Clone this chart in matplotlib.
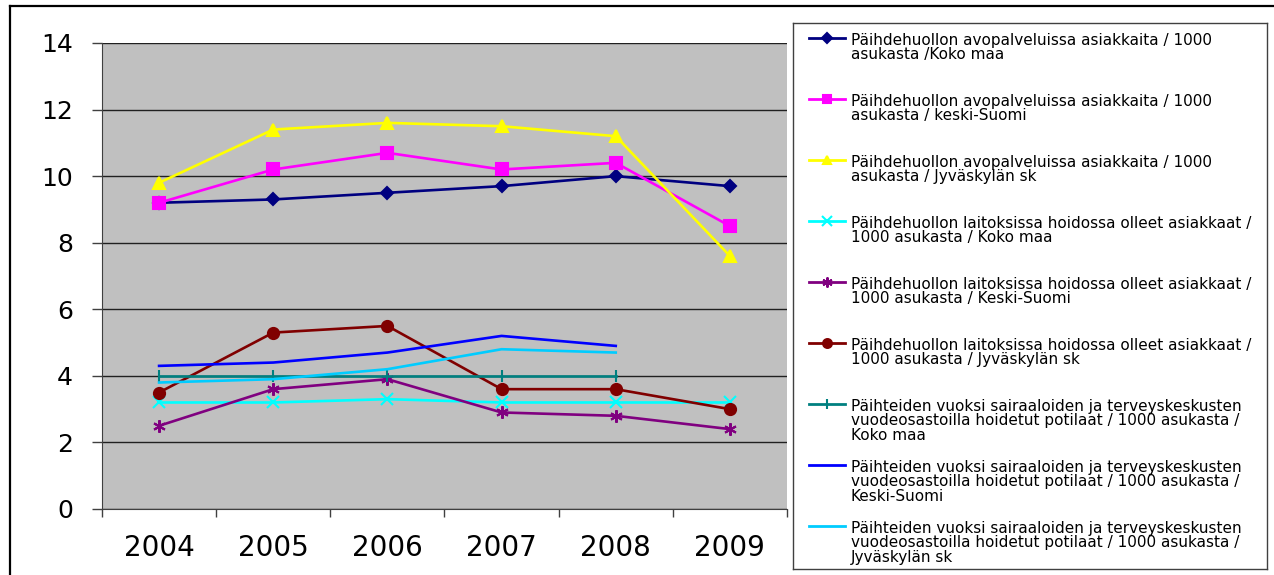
import matplotlib.pyplot as plt
from matplotlib.lines import Line2D

plt.rcParams["font.family"] = ["DejaVu Sans"]

years = ["2004", "2005", "2006", "2007", "2008", "2009"]

avo_koko = [9.2, 9.3, 9.5, 9.7, 10.0, 9.7]
avo_keski = [9.2, 10.2, 10.7, 10.2, 10.4, 8.5]
avo_jkl = [9.8, 11.4, 11.6, 11.5, 11.2, 7.6]
laitos_koko = [3.2, 3.2, 3.3, 3.2, 3.2, 3.2]
laitos_keski = [2.5, 3.6, 3.9, 2.9, 2.8, 2.4]
laitos_jkl = [3.5, 5.3, 5.5, 3.6, 3.6, 3.0]
sairaala_koko = [4.0, 4.0, 4.0, 4.0, 4.0]
sairaala_keski = [4.3, 4.4, 4.7, 5.2, 4.9]
sairaala_jkl = [3.8, 3.9, 4.2, 4.8, 4.7]

labels = [
    "Päihdehuollon avopalveluissa asiakkaita / 1000\nasukasta /Koko maa",
    "Päihdehuollon avopalveluissa asiakkaita / 1000\nasukasta / keski-Suomi",
    "Päihdehuollon avopalveluissa asiakkaita / 1000\nasukasta / Jyväskylän sk",
    "Päihdehuollon laitoksissa hoidossa olleet asiakkaat /\n1000 asukasta / Koko maa",
    "Päihdehuollon laitoksissa hoidossa olleet asiakkaat /\n1000 asukasta / Keski-Suomi",
    "Päihdehuollon laitoksissa hoidossa olleet asiakkaat /\n1000 asukasta / Jyväskylän sk",
    "Päihteiden vuoksi sairaaloiden ja terveyskeskusten\nvuodeosastoilla hoidetut potilaat / 1000 asukasta /\nKoko maa",
    "Päihteiden vuoksi sairaaloiden ja terveyskeskusten\nvuodeosastoilla hoidetut potilaat / 1000 asukasta /\nKeski-Suomi",
    "Päihteiden vuoksi sairaaloiden ja terveyskeskusten\nvuodeosastoilla hoidetut potilaat / 1000 asukasta /\nJyväskylän sk",
]

series = [avo_koko, avo_keski, avo_jkl, laitos_koko, laitos_keski,
          laitos_jkl, sairaala_koko, sairaala_keski, sairaala_jkl]
colors = ["#000080", "#FF00FF", "#FFFF00", "#00FFFF", "#800080",
          "#800000", "#008080", "#0000FF", "#00CCFF"]
markers = ["D", "s", "^", "x", (6, 2, 0), "o", "|", "None", "None"]
msizes = [6, 8, 8, 9, 9, 8, 9, 0, 0]

W, H = 1274, 575
fig = plt.figure(figsize=(W / 100, H / 100), dpi=100)

# plot area
ax = fig.add_axes([102 / W, 1 - 509 / H, 685 / W, 466 / H])
ax.set_facecolor("#C0C0C0")
for vals, c, m, ms in zip(series, colors, markers, msizes):
    ax.plot(range(len(vals)), vals, color=c, lw=1.9, marker=m, ms=ms,
            mew=1.5, zorder=3)

ax.set_xlim(-0.5, 5.5)
ax.set_ylim(0, 14)
ax.set_yticks(range(0, 15, 2))
ax.yaxis.grid(True, color="#202020", lw=1)
ax.set_axisbelow(True)
ax.tick_params(axis="y", labelsize=18, length=7, width=1, color="#404040", pad=14)
ax.set_xticks(range(len(years)))
ax.set_xticklabels(years, fontsize=20)
ax.set_xticks([i - 0.5 for i in range(len(years) + 1)], minor=True)
ax.tick_params(axis="x", which="major", length=0, pad=18)
ax.tick_params(axis="x", which="minor", length=6, width=1, color="#404040")
for side in ["top", "right"]:
    ax.spines[side].set_visible(False)
for side in ["left", "bottom"]:
    ax.spines[side].set_color("#404040")

# legend box
lax = fig.add_axes([793 / W, 1 - 569 / H, 474 / W, 546 / H])
lax.set_xlim(0, 474)
lax.set_ylim(546, 0)
lax.set_xticks([])
lax.set_yticks([])
for s in lax.spines.values():
    s.set_color("#404040")
    s.set_linewidth(1)
for i, (lab, c, m, ms) in enumerate(zip(labels, colors, markers, msizes)):
    y = 15 + i * 61
    lax.plot([16, 52], [y, y], color=c, lw=2)
    lax.plot([34], [y], color=c, marker=m, ms=ms * 0.8, mew=1.5)
    lax.text(58, y - 5, lab, fontsize=11, va="top", ha="left",
             linespacing=0.95)

# outer frame
fig.add_artist(Line2D([10 / W, 1], [1 - 6 / H, 1 - 6 / H], color="black", lw=1.6))
fig.add_artist(Line2D([10 / W, 10 / W], [0, 1 - 6 / H], color="black", lw=1.6))

fig.savefig("out.png", dpi=100)
